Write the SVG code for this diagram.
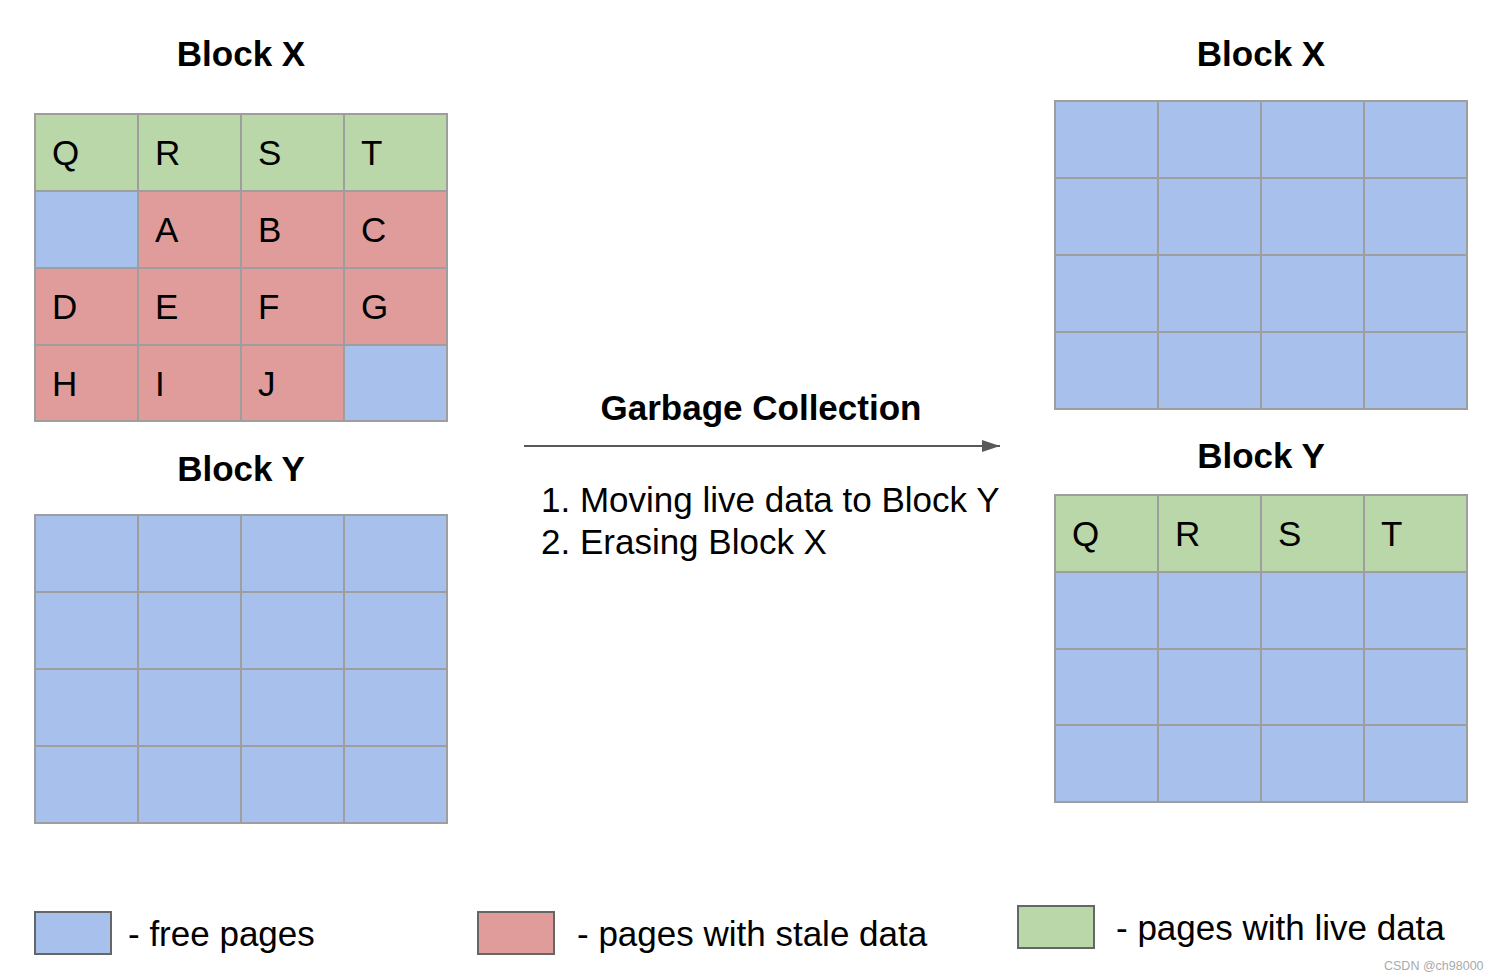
<svg xmlns="http://www.w3.org/2000/svg" width="1500" height="980" viewBox="0 0 1500 980">
<defs>
<style>
.g{fill:#b9d7a8}.b{fill:#a8c0ec}.r{fill:#e09c9a}
.cell rect{stroke:#9e9e9e;stroke-width:2}
.t{font-family:"Liberation Sans",Arial,sans-serif;font-size:35px;fill:#000}
.h{font-family:"Liberation Sans",Arial,sans-serif;font-size:35px;font-weight:bold;fill:#000;text-anchor:middle}
.leg{stroke:#666;stroke-width:2}
</style>
<marker id="ah" viewBox="0 0 18 12" refX="18" refY="6" markerWidth="18" markerHeight="12" markerUnits="userSpaceOnUse" orient="auto">
<path d="M0,0 L18,6 L0,12 Z" fill="#595959"/>
</marker>
</defs>
<rect width="1500" height="980" fill="#fff"/>

<g id="left-block-x">
<text class="h" x="241" y="66">Block X</text>
<g class="cell">
<rect class="g" x="35" y="114" width="103" height="77"/>
<rect class="g" x="138" y="114" width="103" height="77"/>
<rect class="g" x="241" y="114" width="103" height="77"/>
<rect class="g" x="344" y="114" width="103" height="77"/>
<rect class="b" x="35" y="191" width="103" height="77"/>
<rect class="r" x="138" y="191" width="103" height="77"/>
<rect class="r" x="241" y="191" width="103" height="77"/>
<rect class="r" x="344" y="191" width="103" height="77"/>
<rect class="r" x="35" y="268" width="103" height="77"/>
<rect class="r" x="138" y="268" width="103" height="77"/>
<rect class="r" x="241" y="268" width="103" height="77"/>
<rect class="r" x="344" y="268" width="103" height="77"/>
<rect class="r" x="35" y="345" width="103" height="76"/>
<rect class="r" x="138" y="345" width="103" height="76"/>
<rect class="r" x="241" y="345" width="103" height="76"/>
<rect class="b" x="344" y="345" width="103" height="76"/>
</g>
<text class="t" x="52" y="165">Q</text>
<text class="t" x="155" y="165">R</text>
<text class="t" x="258" y="165">S</text>
<text class="t" x="361" y="165">T</text>
<text class="t" x="155" y="242">A</text>
<text class="t" x="258" y="242">B</text>
<text class="t" x="361" y="242">C</text>
<text class="t" x="52" y="319">D</text>
<text class="t" x="155" y="319">E</text>
<text class="t" x="258" y="319">F</text>
<text class="t" x="361" y="319">G</text>
<text class="t" x="52" y="396">H</text>
<text class="t" x="155" y="396">I</text>
<text class="t" x="258" y="396">J</text>
</g>

<g id="left-block-y">
<text class="h" x="241" y="481">Block Y</text>
<g class="cell">
<rect class="b" x="35" y="515" width="103" height="77"/>
<rect class="b" x="138" y="515" width="103" height="77"/>
<rect class="b" x="241" y="515" width="103" height="77"/>
<rect class="b" x="344" y="515" width="103" height="77"/>
<rect class="b" x="35" y="592" width="103" height="77"/>
<rect class="b" x="138" y="592" width="103" height="77"/>
<rect class="b" x="241" y="592" width="103" height="77"/>
<rect class="b" x="344" y="592" width="103" height="77"/>
<rect class="b" x="35" y="669" width="103" height="77"/>
<rect class="b" x="138" y="669" width="103" height="77"/>
<rect class="b" x="241" y="669" width="103" height="77"/>
<rect class="b" x="344" y="669" width="103" height="77"/>
<rect class="b" x="35" y="746" width="103" height="77"/>
<rect class="b" x="138" y="746" width="103" height="77"/>
<rect class="b" x="241" y="746" width="103" height="77"/>
<rect class="b" x="344" y="746" width="103" height="77"/>
</g>
</g>

<g id="right-block-x">
<text class="h" x="1261" y="66">Block X</text>
<g class="cell">
<rect class="b" x="1055" y="101" width="103" height="77"/>
<rect class="b" x="1158" y="101" width="103" height="77"/>
<rect class="b" x="1261" y="101" width="103" height="77"/>
<rect class="b" x="1364" y="101" width="103" height="77"/>
<rect class="b" x="1055" y="178" width="103" height="77"/>
<rect class="b" x="1158" y="178" width="103" height="77"/>
<rect class="b" x="1261" y="178" width="103" height="77"/>
<rect class="b" x="1364" y="178" width="103" height="77"/>
<rect class="b" x="1055" y="255" width="103" height="77"/>
<rect class="b" x="1158" y="255" width="103" height="77"/>
<rect class="b" x="1261" y="255" width="103" height="77"/>
<rect class="b" x="1364" y="255" width="103" height="77"/>
<rect class="b" x="1055" y="332" width="103" height="77"/>
<rect class="b" x="1158" y="332" width="103" height="77"/>
<rect class="b" x="1261" y="332" width="103" height="77"/>
<rect class="b" x="1364" y="332" width="103" height="77"/>
</g>
</g>

<g id="right-block-y">
<text class="h" x="1261" y="468">Block Y</text>
<g class="cell">
<rect class="g" x="1055" y="495" width="103" height="77"/>
<rect class="g" x="1158" y="495" width="103" height="77"/>
<rect class="g" x="1261" y="495" width="103" height="77"/>
<rect class="g" x="1364" y="495" width="103" height="77"/>
<rect class="b" x="1055" y="572" width="103" height="77"/>
<rect class="b" x="1158" y="572" width="103" height="77"/>
<rect class="b" x="1261" y="572" width="103" height="77"/>
<rect class="b" x="1364" y="572" width="103" height="77"/>
<rect class="b" x="1055" y="649" width="103" height="76"/>
<rect class="b" x="1158" y="649" width="103" height="76"/>
<rect class="b" x="1261" y="649" width="103" height="76"/>
<rect class="b" x="1364" y="649" width="103" height="76"/>
<rect class="b" x="1055" y="725" width="103" height="77"/>
<rect class="b" x="1158" y="725" width="103" height="77"/>
<rect class="b" x="1261" y="725" width="103" height="77"/>
<rect class="b" x="1364" y="725" width="103" height="77"/>
</g>
<text class="t" x="1072" y="546">Q</text>
<text class="t" x="1175" y="546">R</text>
<text class="t" x="1278" y="546">S</text>
<text class="t" x="1381" y="546">T</text>
</g>

<g id="connectors">
<line x1="524" y1="446" x2="1000" y2="446" stroke="#595959" stroke-width="2" marker-end="url(#ah)"/>
</g>

<g id="gc-label">
<text class="h" x="761" y="420">Garbage Collection</text>
<text class="t" x="541" y="512">1. Moving live data to Block Y</text>
<text class="t" x="541" y="554">2. Erasing Block X</text>
</g>

<g id="legend">
<rect class="b leg" x="35" y="912" width="76" height="42"/>
<text class="t" x="128" y="946">- free pages</text>
<rect class="r leg" x="478" y="912" width="76" height="42"/>
<text class="t" x="577" y="946">- pages with stale data</text>
<rect class="g leg" x="1018" y="906" width="76" height="42"/>
<text class="t" x="1116" y="940">- pages with live data</text>
</g>

<text x="1384" y="970" font-family="Liberation Sans,Arial,sans-serif" font-size="12.5" fill="#aaa">CSDN @ch98000</text>
</svg>
